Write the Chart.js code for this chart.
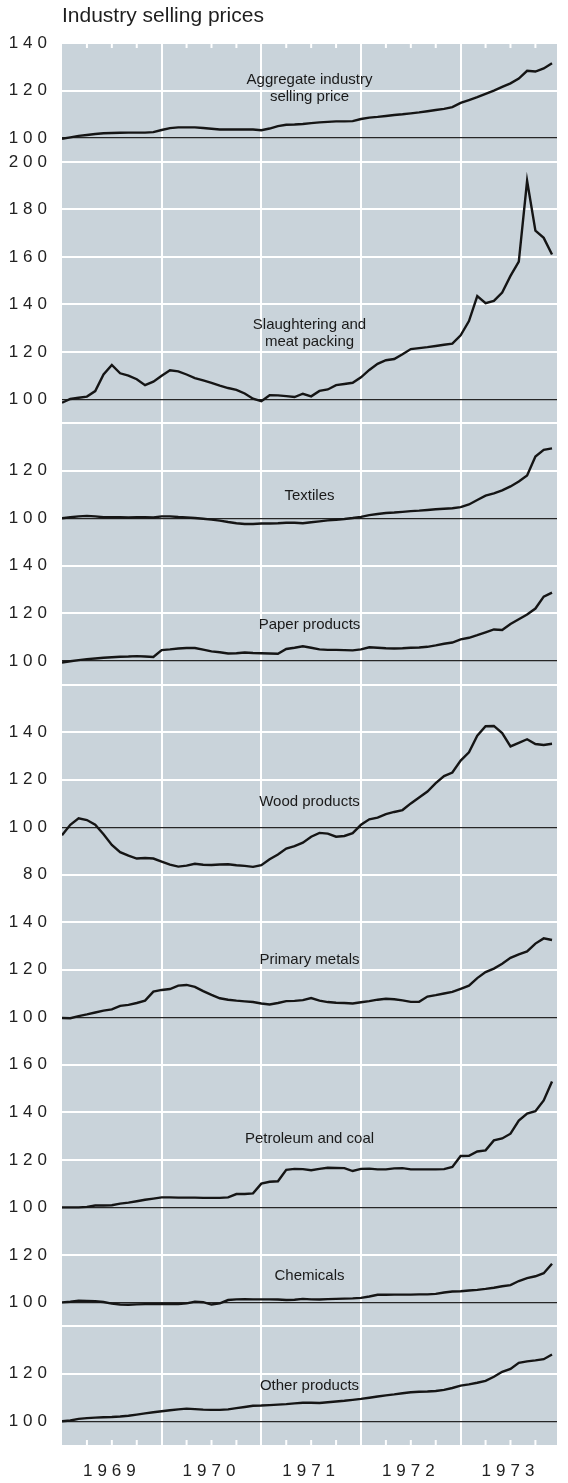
<!DOCTYPE html>
<html>
<head>
<meta charset="utf-8">
<script src="https://cdn.jsdelivr.net/npm/chart.js@4.4.1/dist/chart.umd.min.js"></script>
<style>
  html, body { margin: 0; padding: 0; background: #fff; }
  #wrap { position: relative; width: 568px; height: 1483px; }
  #myChart { position: absolute; left: 0; top: 0; }
  #title { position: absolute; left: 62px; top: 3px; font: 21px "Liberation Sans", Arial, sans-serif; color: #1e1e1e; }
</style>
</head>
<body>
<div id="wrap">
  <canvas id="myChart" width="568" height="1483"></canvas>
  <div id="title">Industry selling prices</div>
</div>
<script>
// month index, Jan 1969 = 0
let months = [0,1,2,3,4,5,6,7,8,9,10,11,12,13,14,15,16,17,18,19,20,21,22,23,24,25,26,27,28,29,
  30,31,32,33,34,35,36,37,38,39,40,41,42,43,44,45,46,47,48,49,50,51,52,53,54,55,56,57,58,59];
let years = ["1969", "1970", "1971", "1972", "1973"];

let panelNames = ["Aggregate industry\nselling price", "Slaughtering and\nmeat packing", "Textiles",
  "Paper products", "Wood products", "Primary metals", "Petroleum and coal", "Chemicals", "Other products"];

let aggregate = [99.7,100.3,100.9,101.3,101.7,102.0,102.1,102.2,102.3,102.3,102.3,102.5,
  103.4,104.2,104.5,104.5,104.5,104.2,103.9,103.6,103.6,103.6,103.6,103.6,
  103.3,104.0,105.0,105.6,105.7,105.9,106.3,106.6,106.8,107.0,107.0,107.1,
  108.0,108.6,108.9,109.3,109.7,110.0,110.4,110.8,111.3,111.8,112.3,113.0,
  114.8,116.0,117.2,118.6,120.0,121.5,123.0,125.0,128.3,128.0,129.3,131.5];
let meat = [98.6,100.2,100.7,101.2,103.5,110.5,114.5,111.0,110.0,108.5,106.0,107.5,
  110.0,112.3,111.8,110.5,109.0,108.0,107.0,105.8,104.8,104.0,102.5,100.3,
  99.3,101.8,101.7,101.4,101.0,102.4,101.3,103.6,104.2,106.0,106.5,107.0,
  109.3,112.4,115.0,116.5,117.0,119.0,121.2,121.6,122.0,122.5,123.0,123.5,
  127.0,133.0,143.5,140.5,141.5,145.0,152.0,158.0,192.0,171.0,168.0,161.0];
let textiles = [100.0,100.4,100.8,101.0,100.8,100.4,100.4,100.4,100.3,100.4,100.4,100.3,
  100.8,100.8,100.5,100.3,100.1,99.8,99.4,99.0,98.4,97.9,97.6,97.6,
  97.8,97.8,97.9,98.1,98.1,97.9,98.3,98.7,99.1,99.4,99.7,100.1,
  100.6,101.3,101.8,102.2,102.4,102.7,103.0,103.2,103.5,103.8,104.0,104.2,
  104.7,105.8,107.7,109.5,110.5,111.7,113.4,115.5,118.0,126.0,128.8,129.4];
let paper = [99.3,99.8,100.3,100.7,101.0,101.3,101.5,101.7,101.8,102.0,101.8,101.6,
  104.5,104.8,105.2,105.4,105.4,104.7,104.0,103.6,103.1,103.2,103.5,103.3,
  103.2,103.1,103.0,105.0,105.5,106.1,105.5,104.8,104.6,104.6,104.5,104.4,
  104.8,105.7,105.5,105.3,105.2,105.3,105.5,105.6,105.9,106.5,107.2,107.7,
  109.0,109.7,110.8,112.0,113.2,113.0,115.5,117.5,119.5,122.0,127.0,128.7];
let wood = [96.6,101.0,103.7,103.0,101.0,97.0,92.5,89.5,88.0,86.8,87.0,86.8,
  85.5,84.2,83.4,83.8,84.6,84.2,84.1,84.3,84.4,84.0,83.7,83.3,
  84.0,86.5,88.5,91.0,92.0,93.5,96.0,97.6,97.3,96.0,96.3,97.5,
  101.0,103.3,104.0,105.5,106.4,107.2,110.0,112.5,115.0,118.5,121.5,123.0,
  128.0,131.5,138.5,142.5,142.6,139.6,134.0,135.5,137.0,135.0,134.6,135.1];
let metals = [99.7,99.6,100.5,101.2,102.0,102.8,103.3,104.8,105.2,106.0,107.0,110.8,
  111.5,111.9,113.3,113.6,112.8,111.0,109.4,108.0,107.4,107.0,106.7,106.4,
  105.8,105.4,106.0,106.8,106.9,107.2,108.1,107.0,106.4,106.1,106.0,105.8,
  106.3,106.8,107.4,107.8,107.6,107.1,106.5,106.5,108.7,109.3,110.0,110.7,
  112.0,113.3,116.5,119.0,120.5,122.5,125.0,126.5,127.7,131.0,133.2,132.5];
let petroleum = [100.0,100.0,100.0,100.2,100.8,100.8,100.9,101.6,102.0,102.6,103.2,103.7,
  104.2,104.2,104.1,104.1,104.1,104.0,104.0,104.0,104.2,105.6,105.6,105.9,
  110.0,110.8,111.0,115.8,116.2,116.1,115.6,116.2,116.7,116.6,116.5,115.3,
  116.2,116.3,116.0,116.0,116.4,116.5,116.0,116.0,116.0,116.0,116.1,117.0,
  121.6,121.7,123.5,124.0,128.2,129.0,131.0,136.5,139.5,140.5,145.0,153.0];
let chemicals = [100.0,100.3,100.7,100.6,100.5,100.2,99.5,99.1,99.0,99.2,99.3,99.3,
  99.3,99.3,99.3,99.6,100.3,100.1,99.1,99.6,101.0,101.3,101.4,101.3,
  101.3,101.3,101.2,101.0,101.1,101.5,101.3,101.2,101.4,101.5,101.6,101.7,
  101.9,102.5,103.2,103.2,103.3,103.3,103.3,103.4,103.4,103.6,104.2,104.6,
  104.7,105.0,105.3,105.7,106.2,106.8,107.3,109.0,110.2,111.0,112.3,116.3];
let other = [100.0,100.3,101.0,101.3,101.5,101.7,101.8,102.0,102.3,102.8,103.3,103.8,
  104.2,104.6,105.0,105.3,105.1,104.9,104.8,104.8,105.0,105.5,106.0,106.5,
  106.6,106.8,107.0,107.2,107.5,107.8,107.8,107.7,108.0,108.3,108.6,109.0,
  109.4,109.9,110.4,110.9,111.3,111.8,112.2,112.4,112.5,112.7,113.2,114.0,
  115.0,115.5,116.2,117.0,118.7,120.8,122.0,124.6,125.2,125.6,126.1,128.1];

let series = [aggregate, meat, textiles, paper, wood, metals, petroleum, chemicals, other];

// y range of each panel and the tick labels shown on it
let panelMin = [90, 90, 90, 90, 70, 90, 90, 90, 90];
let panelMax = [140, 200, 140, 150, 160, 150, 170, 130, 140];
let tickLabels = [
  [100, 120, 140], [100, 120, 140, 160, 180, 200], [100, 120], [100, 120, 140],
  [80, 100, 120, 140], [100, 120, 140], [100, 120, 140, 160], [100, 120], [100, 120]
];
let extraLines = [[], [], [140], [], [160], [], [], [], [140]];

// where the panel captions sit (value on each panel's axis)
let captionAt = [121, 128, 109.3, 115.2, 110.5, 124, 129, 111, 114.8];
let captionMonth = 29.8;

let tickFont = { family: "'Liberation Sans', Arial, sans-serif", size: 17 };

let yScales = {};
series.forEach((s, i) => {
  let lines = tickLabels[i].concat(extraLines[i]);
  yScales["y" + i] = {
    type: "linear",
    position: "left",
    stack: "panels",
    stackWeight: panelMax[i] - panelMin[i],
    weight: 20 - i,
    min: panelMin[i],
    max: panelMax[i],
    afterBuildTicks: (axis) => { axis.ticks = lines.map(v => ({ value: v })); },
    afterFit: (axis) => { axis.width = 62; },
    border: { display: false },
    grid: {
      drawTicks: false,
      color: (c) => c.tick && c.tick.value === 100 ? "#262626" : "#ffffff",
      lineWidth: (c) => c.tick && c.tick.value === 100 ? 1.2 : 2,
    },
    ticks: {
      autoSkip: false,
      padding: 10,
      color: "#222",
      font: tickFont,
      callback: (v) => tickLabels[i].includes(v) ? String(v) : "",
    },
  };
});

let greyPaper = {
  id: "greyPaper",
  beforeDraw(chart) {
    let ctx = chart.ctx, a = chart.chartArea;
    ctx.letterSpacing = "5px";
    ctx.save();
    ctx.fillStyle = "#c9d3da";
    ctx.fillRect(a.left, a.top, a.right - a.left, a.bottom - a.top);
    ctx.restore();
  },
  beforeDatasetsDraw(chart) {
    // quarterly notches along the top and bottom edges
    let ctx = chart.ctx, a = chart.chartArea, x = chart.scales.x;
    ctx.save();
    ctx.strokeStyle = "#ffffff";
    ctx.lineWidth = 2;
    months.filter(m => m % 3 === 0 && m % 12 !== 0).forEach(m => {
      let px = x.getPixelForValue(m);
      ctx.beginPath();
      ctx.moveTo(px, a.top); ctx.lineTo(px, a.top + 5);
      ctx.moveTo(px, a.bottom); ctx.lineTo(px, a.bottom - 5);
      ctx.stroke();
    });
    ctx.restore();
  },
  afterDatasetsDraw(chart) {
    let ctx = chart.ctx;
    let px = chart.scales.x.getPixelForValue(captionMonth);
    ctx.save();
    ctx.letterSpacing = "0px";
    ctx.font = "15px 'Liberation Sans', Arial, sans-serif";
    ctx.fillStyle = "#1a1a1a";
    ctx.textAlign = "center";
    ctx.textBaseline = "middle";
    panelNames.forEach((name, i) => {
      let parts = name.split("\n");
      let py = chart.scales["y" + i].getPixelForValue(captionAt[i]);
      parts.forEach((t, k) => ctx.fillText(t, px, py + (k - (parts.length - 1) / 2) * 17));
    });
    ctx.restore();
  },
};

let ctx = document.getElementById("myChart");

let chartt = new Chart(ctx, {
  type: "line",
  data: {
    datasets: series.map((s, i) => ({
      label: panelNames[i],
      data: s.map((v, k) => ({ x: months[k], y: v })),
      yAxisID: "y" + i,
      xAxisID: "x",
      borderColor: "#151515",
      borderWidth: 2.4,
      pointRadius: 0,
      tension: 0,
      fill: false,
    })),
  },
  options: {
    responsive: false,
    animation: false,
    devicePixelRatio: 1,
    layout: { padding: { top: 43, right: 11, bottom: 0, left: 0 } },
    plugins: {
      legend: { display: false },
      tooltip: { enabled: false },
    },
    scales: Object.assign({
      x: {
        type: "linear",
        min: 0,
        max: 59.6,
        afterBuildTicks: (axis) => { axis.ticks = [6, 12, 18, 24, 30, 36, 42, 48, 54].map(v => ({ value: v })); },
        afterFit: (axis) => { axis.height = 38; },
        border: { display: false },
        grid: {
          drawTicks: false,
          color: (c) => c.tick && c.tick.value % 12 === 0 ? "#ffffff" : "rgba(0,0,0,0)",
          lineWidth: 2,
        },
        ticks: {
          autoSkip: false,
          maxRotation: 0,
          padding: 16,
          color: "#222",
          font: tickFont,
          callback: (v) => v % 12 === 6 ? years[(v - 6) / 12] : "",
        },
      },
    }, yScales),
  },
  plugins: [greyPaper],
});
</script>
</body>
</html>
